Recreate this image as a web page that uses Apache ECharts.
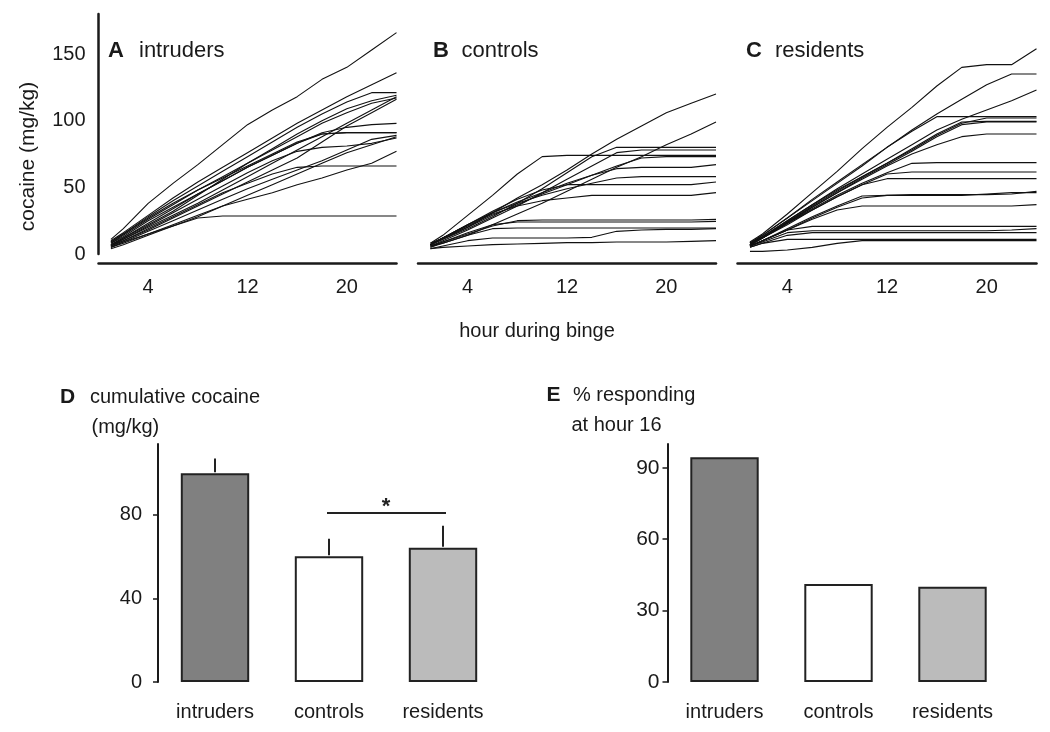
<!DOCTYPE html>
<html><head><meta charset="utf-8">
<script src="https://cdn.jsdelivr.net/npm/echarts@6/dist/echarts.min.js"></script>
<style>html,body{margin:0;padding:0;background:#fff}#c{width:1050px;height:732px}</style>
</head><body><div id="c"></div>
<script>
// ---------- data ----------
const hours = [1, 2, 4, 6, 8, 10, 12, 14, 16, 18, 20, 22, 24];
const hourTicks = [4, 12, 20];
const cocaineTicks = [0, 50, 100, 150];

const intruderLines = [
  [11, 19, 38, 53, 67, 82, 97, 108, 118, 131, 140, 153, 166],
  [10, 16, 29, 42, 54, 65, 76, 87, 98, 108, 118, 127, 136],
  [9, 15, 28, 40, 51, 62, 73, 84, 95, 105, 114, 121, 121],
  [8, 14, 26, 37, 48, 58, 68, 79, 90, 100, 109, 115, 119],
  [7, 12, 22, 32, 44, 56, 68, 78, 88, 98, 106, 113, 117],
  [6, 10, 18, 27, 36, 45, 54, 63, 72, 84, 96, 106, 116],
  [8, 13, 25, 35, 45, 55, 65, 74, 83, 91, 95, 97, 98],
  [7, 12, 23, 34, 45, 55, 65, 74, 83, 90, 91, 91, 91],
  [5, 9, 17, 25, 33, 41, 49, 56, 63, 70, 78, 86, 89],
  [6, 11, 21, 31, 41, 51, 61, 70, 77, 80, 81, 83, 87],
  [5, 8, 15, 22, 29, 36, 41, 46, 52, 57, 63, 68, 77],
  [6, 10, 19, 28, 37, 46, 53, 60, 65, 66, 66, 66, 66],
  [5, 9, 15, 21, 27, 28.5, 28.5, 28.5, 28.5, 28.5, 28.5, 28.5, 28.5],
  [9, 15, 27, 38, 48, 57, 66, 75, 84, 90, 91, 91, 91],
  [7, 11, 20, 29, 38, 48, 58, 68, 78, 88, 98, 108, 118],
  [4, 7, 14, 21, 28, 36, 44, 52, 60, 68, 76, 82, 88]
];

const controlLines = [
  [8, 12, 20, 31, 42, 52, 63, 75, 86, 96, 106, 113, 120],
  [6, 8, 14, 22, 30, 38, 47, 56, 65, 73, 82, 90, 99],
  [8, 14, 29, 44, 60, 73, 74, 74, 74, 74, 74, 74, 74],
  [7, 11, 19, 28, 38, 49, 61, 73, 80, 80, 80, 80, 80],
  [6, 10, 18, 27, 36, 46, 56, 66, 76, 78, 78, 78, 78],
  [7, 11, 20, 29, 37, 45, 52, 59, 66, 72, 73, 73, 73],
  [7, 12, 22, 31, 39, 46, 53, 59, 64, 65, 65, 65, 67],
  [7, 12, 22, 31, 38, 44, 49, 53, 57, 58, 58, 58, 58],
  [7, 12, 22, 32, 41, 48, 52, 52, 52, 52, 52, 52, 54],
  [7, 12, 21, 30, 36, 40, 42, 44, 44, 44, 44, 44, 46],
  [6, 9, 15, 21, 25, 25.5, 25.5, 25.5, 25.5, 25.5, 25.5, 25.5, 26],
  [5, 9, 16, 22, 24, 24, 24, 24, 24, 24, 24, 24, 24.5],
  [5, 8, 14, 19, 19.5, 19.5, 19.5, 19.5, 19.5, 19.5, 19.5, 19.5, 19.5],
  [4, 6, 10, 12, 12, 12, 12, 12.5, 17, 18, 18.5, 18.5, 19],
  [4, 5, 6, 7, 7.5, 8, 8.5, 8.5, 9, 9, 9, 9.5, 10]
];

const residentLines = [
  [9, 15, 30, 46, 62, 79, 95, 110, 126, 140, 142, 142, 154],
  [8, 14, 27, 40, 53, 66, 80, 93, 105, 116, 127, 135, 135],
  [8, 13, 25, 37, 49, 60, 71, 82, 93, 101, 108, 115, 123],
  [8, 14, 27, 41, 54, 67, 80, 92, 103, 103, 103, 103, 103],
  [8, 13, 25, 37, 48, 58, 68, 78, 89, 98, 102, 102, 102],
  [7, 12, 24, 36, 47, 58, 68, 79, 90, 99, 99.5, 99.5, 99.5],
  [7, 12, 23, 35, 46, 57, 67, 77, 88, 97, 99, 99, 99],
  [7, 12, 24, 35, 46, 56, 66, 75, 82, 88, 90, 90, 90],
  [7, 12, 23, 34, 44, 53, 61, 68, 68.5, 68.5, 68.5, 68.5, 68.5],
  [7, 12, 23, 33, 43, 52, 60, 61.5, 61.5, 61.5, 61.5, 61.5, 61.5],
  [7, 12, 22, 33, 43, 52, 56.5, 56.5, 56.5, 56.5, 56.5, 56.5, 56.5],
  [6, 10, 19, 28, 36, 43.5, 44, 44, 44, 44, 45, 46, 46],
  [6, 10, 18, 26, 33, 36, 36, 36, 36, 36, 36, 36, 37],
  [6, 10, 18, 27, 35, 42, 44, 44.5, 44.5, 44.5, 44.5, 45, 47],
  [6, 10, 18, 20.7, 20.7, 20.7, 20.7, 20.7, 20.7, 20.7, 20.7, 20.7, 20.7],
  [6, 9, 16, 17.4, 17.4, 17.4, 17.4, 17.4, 17.4, 17.4, 17.4, 18, 19],
  [5, 8, 14, 16, 16, 16, 16, 16, 16, 16, 16, 16, 16],
  [5, 8, 11, 11, 11, 11, 11, 11, 11, 11, 11, 11, 11],
  [2, 2, 3, 5, 8, 10, 10, 10, 10, 10, 10, 10, 10]
];

const groups = ['intruders', 'controls', 'residents'];
const cumulativeMean = [100, 60.2, 64.3];
const cumulativeSem = [7, 8.4, 10.5];
const significanceLevel = 81;
const cumulativeTicks = [0, 40, 80];
const pctResponding = [94.4, 41.2, 40];
const pctTicks = [0, 30, 60, 90];

// ---------- styles ----------
const FONT = "'Liberation Sans', Arial, Helvetica, sans-serif";
const INK = '#1a1a1a';
const barColors = ['#808080', '#ffffff', '#bbbbbb'];

const chart = echarts.init(document.getElementById('c'), null, {renderer: 'canvas'});

const lineGrids = [
  {left: 98.5, top: 14, width: 298, height: 240},
  {left: 418, top: 14, width: 298, height: 240},
  {left: 737.5, top: 14, width: 299, height: 240}
];
const barGrids = [
  {left: 158, top: 444, width: 342, height: 238},
  {left: 667.5, top: 444, width: 342, height: 238}
];
const grids = lineGrids.concat(barGrids).map(g => Object.assign({outerBoundsMode: 'none', containLabel: false}, g));

const xAxes = [];
const yAxes = [];
for (let i = 0; i < 3; i++) {
  xAxes.push({
    gridIndex: i, type: 'value', min: 0, max: 24, offset: 9,
    axisLine: {show: true, onZero: false, lineStyle: {color: INK, width: 2.5}},
    axisTick: {show: false}, splitLine: {show: false},
    axisLabel: {customValues: hourTicks, fontSize: 20, color: INK, fontFamily: FONT, margin: 14}
  });
  yAxes.push({
    gridIndex: i, type: 'value', min: 0, max: 180, show: i === 0,
    axisLine: {show: true, lineStyle: {color: INK, width: 2.5}},
    axisTick: {show: false}, splitLine: {show: false},
    axisLabel: {customValues: cocaineTicks, fontSize: 20, color: INK, fontFamily: FONT, margin: 13}
  });
}
// bar panels
[3, 4].forEach((gi, k) => {
  xAxes.push({
    gridIndex: gi, type: 'category', data: groups,
    axisLine: {show: false}, axisTick: {show: false}, splitLine: {show: false},
    axisLabel: {fontSize: 20, color: INK, fontFamily: FONT, margin: 20}
  });
  yAxes.push({
    gridIndex: gi, type: 'value', min: 0, max: k === 0 ? 114 : 100,
    axisLine: {show: true, lineStyle: {color: INK, width: 2}},
    axisTick: {show: true, length: 5, customValues: k === 0 ? cumulativeTicks : pctTicks, lineStyle: {color: INK, width: 1.5}},
    splitLine: {show: false},
    axisLabel: {customValues: k === 0 ? cumulativeTicks : pctTicks, fontSize: k === 0 ? 20 : 21, color: INK, fontFamily: FONT, margin: k === 0 ? 16 : 8}
  });
});

const series = [];
[intruderLines, controlLines, residentLines].forEach((lines, idx) => {
  lines.forEach(vals => {
    series.push({
      type: 'line', xAxisIndex: idx, yAxisIndex: idx,
      data: vals.map((v, i) => [hours[i], v]),
      symbol: 'none', showSymbol: false, silent: true,
      lineStyle: {color: '#111', width: 1.1}
    });
  });
});

// panel D bars
series.push({
  type: 'bar', xAxisIndex: 3, yAxisIndex: 3, barWidth: '60%', silent: true,
  data: cumulativeMean.map((v, i) => ({value: v, itemStyle: {color: barColors[i]}})),
  itemStyle: {borderColor: '#222', borderWidth: 2}
});
// error bars (upper only)
series.push({
  type: 'custom', xAxisIndex: 3, yAxisIndex: 3, silent: true, z: 5,
  data: cumulativeMean.map((v, i) => [i, v, cumulativeSem[i]]),
  renderItem: function (params, api) {
    const base = api.coord([api.value(0), api.value(1)]);
    const top = api.coord([api.value(0), api.value(1) + api.value(2)]);
    return {type: 'line', shape: {x1: base[0], y1: base[1] - 1, x2: top[0], y2: top[1]},
      style: {stroke: '#222', lineWidth: 2}};
  }
});
// significance bracket controls vs residents
series.push({
  type: 'custom', xAxisIndex: 3, yAxisIndex: 3, silent: true, z: 5,
  data: [[1, significanceLevel, 2]],
  renderItem: function (params, api) {
    const p1 = api.coord([api.value(0), api.value(1)]);
    const p2 = api.coord([api.value(2), api.value(1)]);
    return {type: 'group', children: [
      {type: 'line', shape: {x1: p1[0] - 2, y1: p1[1], x2: p2[0] + 3, y2: p2[1]}, style: {stroke: '#222', lineWidth: 2}},
      {type: 'text', x: (p1[0] + p2[0]) / 2, y: p1[1] - 17,
        style: {text: '*', font: 'bold 22px ' + FONT, fill: '#222', align: 'center', verticalAlign: 'top'}}
    ]};
  }
});
// panel E bars
series.push({
  type: 'bar', xAxisIndex: 4, yAxisIndex: 4, barWidth: '60%', silent: true,
  data: pctResponding.map((v, i) => ({value: v, itemStyle: {color: barColors[i]}})),
  itemStyle: {borderColor: '#222', borderWidth: 2}
});

function txt(x, y, text, size, bold, extra) {
  return Object.assign({
    type: 'text', x: x, y: y, silent: true,
    style: {text: text, fill: INK, font: (bold ? 'bold ' : '') + size + 'px ' + FONT, align: 'left', verticalAlign: 'middle'}
  }, extra || {});
}

const graphic = [
  txt(108, 51, 'A', 22, true), txt(139, 51, 'intruders', 22, false),
  txt(433, 51, 'B', 22, true), txt(461.5, 51, 'controls', 22, false),
  txt(746, 51, 'C', 22, true), txt(775, 51, 'residents', 22, false),
  {type: 'text', x: 28.5, y: 156.5, rotation: Math.PI / 2, silent: true,
    style: {text: 'cocaine (mg/kg)', fill: INK, font: '21px ' + FONT, align: 'center', verticalAlign: 'middle'}},
  {type: 'text', x: 537, y: 331.5, silent: true,
    style: {text: 'hour during binge', fill: INK, font: '20px ' + FONT, align: 'center', verticalAlign: 'middle'}},
  txt(60, 397, 'D', 21, true), txt(90, 397, 'cumulative cocaine', 20, false),
  txt(91.5, 427, '(mg/kg)', 20, false),
  txt(546.5, 395, 'E', 21, true), txt(573, 395, '% responding', 20, false),
  txt(571.5, 425, 'at hour 16', 20, false)
];

chart.setOption({
  animation: false,
  backgroundColor: '#fff',
  textStyle: {fontFamily: FONT},
  grid: grids,
  xAxis: xAxes,
  yAxis: yAxes,
  series: series,
  graphic: graphic
});
</script></body></html>
